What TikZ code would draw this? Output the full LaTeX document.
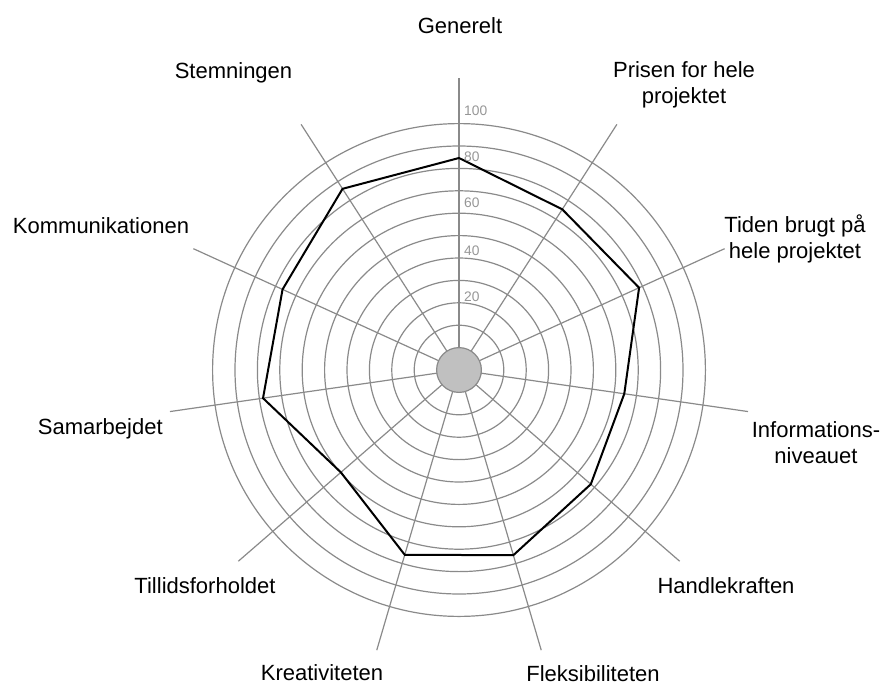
\documentclass[tikz,border=0pt]{standalone}
\usepackage{fontspec}
\setmainfont{Liberation Sans}
\usepackage{tikz}
\usetikzlibrary{calc}

\definecolor{gridgray}{RGB}{138,138,138}
\definecolor{tickgray}{RGB}{150,150,150}
\definecolor{hubgray}{RGB}{192,192,192}

\tikzset{
  ring/.style={draw=gridgray, line width=1.2pt},
  spoke/.style={draw=gridgray, line width=1.2pt},
  axislabel/.style={anchor=base, align=center, inner sep=0pt,
    font=\fontsize{22}{25.5}\selectfont},
  ticklabel/.style={anchor=west, inner sep=0pt, text=tickgray,
    font=\fontsize{13.8}{16}\selectfont},
  scoreline/.style={draw=black, line width=2pt, line join=miter}
}

\begin{document}
\begin{tikzpicture}[x=1pt,y=1pt]
            \useasboundingbox (-459,-316) rectangle (423,370);

            % Drawing the rings
            \draw [ring] (0,0) circle (44.8);%
            \draw [ring] (0,0) circle (67.2);%
            \draw [ring] (0,0) circle (89.6);%
            \draw [ring] (0,0) circle (112.0);%
            \draw [ring] (0,0) circle (134.4);%
            \draw [ring] (0,0) circle (156.8);%
            \draw [ring] (0,0) circle (179.2);%
            \draw [ring] (0,0) circle (201.6);%
            \draw [ring] (0,0) circle (224.0);%
            \draw [ring] (0,0) circle (246.4);%

            % Drawing the spokes
            \draw [spoke] (0,0) -- (90:292);%
            \draw [spoke] (0,0) -- (57.27:292);%
            \draw [spoke] (0,0) -- (24.55:292);%
            \draw [spoke] (0,0) -- (-8.18:292);%
            \draw [spoke] (0,0) -- (-40.91:292);%
            \draw [spoke] (0,0) -- (-73.64:292);%
            \draw [spoke] (0,0) -- (-106.36:292);%
            \draw [spoke] (0,0) -- (-139.09:292);%
            \draw [spoke] (0,0) -- (-171.82:292);%
            \draw [spoke] (0,0) -- (155.45:292);%
            \draw [spoke] (0,0) -- (122.73:292);%

            % Marking the hub
            \draw [draw=gridgray, line width=1.2pt, fill=hubgray] (0,0) circle (22.4);%

            % Drawing the scores
            \draw [scoreline] (90:212) -- (57.27:191) -- (24.55:198)
              -- (-8.18:167) -- (-40.91:174.4) -- (-73.64:193)
              -- (-106.36:192.6) -- (-139.09:156.3) -- (-171.82:198)
              -- (155.45:194) -- (122.73:215.4) -- cycle;%

            % Marking the scale
            \node [ticklabel] (tick20) at (5,73) {20};%
            \node [ticklabel] (tick40) at (5,119) {40};%
            \node [ticklabel] (tick60) at (5,167) {60};%
            \node [ticklabel] (tick80) at (5,213) {80};%
            \node [ticklabel] (tick100) at (5,259.3) {100};%

            % Marking the axis names
            \node [axislabel] (generelt) at (1,336) {Generelt};%
            \node [axislabel] (prisen) at (225,267) {Prisen for hele\\projektet};%
            \node [axislabel] (tiden) at (336,112) {Tiden brugt på\\hele projektet};%
            \node [axislabel] (info) at (357,-93) {Informations-\\niveauet};%
            \node [axislabel] (handlekraft) at (267,-223) {Handlekraften};%
            \node [axislabel] (fleks) at (134,-311) {Fleksibiliteten};%
            \node [axislabel] (kreativ) at (-137,-310) {Kreativiteten};%
            \node [axislabel] (tillid) at (-254,-223) {Tillidsforholdet};%
            \node [axislabel] (samarbejde) at (-358.7,-64) {Samarbejdet};%
            \node [axislabel] (kommunikation) at (-358,137) {Kommunikationen};%
            \node [axislabel] (stemning) at (-225.5,291) {Stemningen};%
\end{tikzpicture}
\end{document}
